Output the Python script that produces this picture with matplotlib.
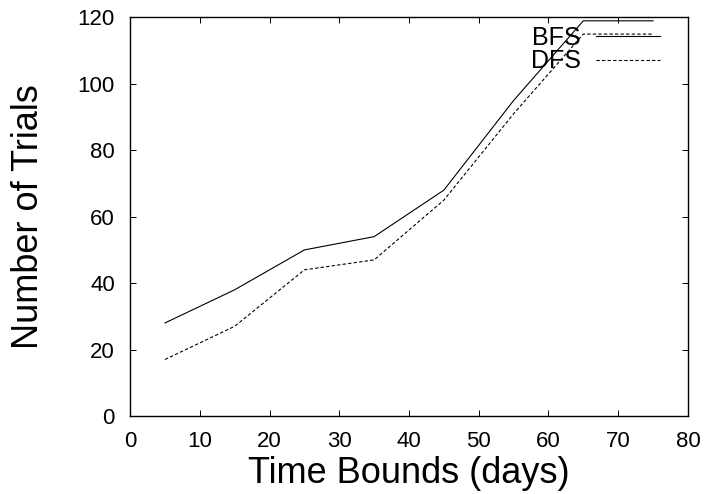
import numpy as np
import matplotlib
matplotlib.use('Agg')
from matplotlib import pyplot as plt

plt.rcParams['font.family'] = ['Liberation Sans', 'DejaVu Sans']

time_bounds = [5, 15, 25, 35, 45, 55, 65, 75]
bfs_trials = [28, 38, 50, 54, 68, 95, 119, 119]
dfs_trials = [17, 27, 44, 47, 65, 91, 115, 115]

fig = plt.figure(figsize=(7.07, 4.94), dpi=100, facecolor='w')
ax = fig.add_axes([0.184, 0.158, 0.789, 0.8066])

ax.plot(time_bounds, bfs_trials, color='k', lw=0.8, solid_joinstyle='miter')
ax.plot(time_bounds, dfs_trials, color='k', lw=0.8, dashes=(3, 2))

ax.set_xlim(0, 80)
ax.set_ylim(0, 120)
ax.set_xticks(np.arange(0, 81, 10))
ax.set_yticks(np.arange(0, 121, 20))
ax.tick_params(direction='in', length=4.5, width=0.7, top=True, right=True,
               labelsize=16, pad=11)
for s in ax.spines.values():
    s.set_linewidth(1.0)

ax.set_xlabel('Time Bounds (days)', fontsize=26, labelpad=2.5)
ax.set_ylabel('Number of Trials', fontsize=26)
ax.yaxis.set_label_coords(-0.150, 0.5)

# key in the top right corner, label first then sample
keys = [('BFS', {}, 0.931, 0.954), ('DFS', {'dashes': (3, 2)}, 0.873, 0.893)]
for name, style, ytext, yline in keys:
    ax.text(0.808, ytext, name, transform=ax.transAxes, ha='right',
            va='baseline', fontsize=18)
    ax.plot([0.835, 0.950], [yline, yline], transform=ax.transAxes,
            color='k', lw=0.8, **style)

fig.savefig('out.png', dpi=100)
